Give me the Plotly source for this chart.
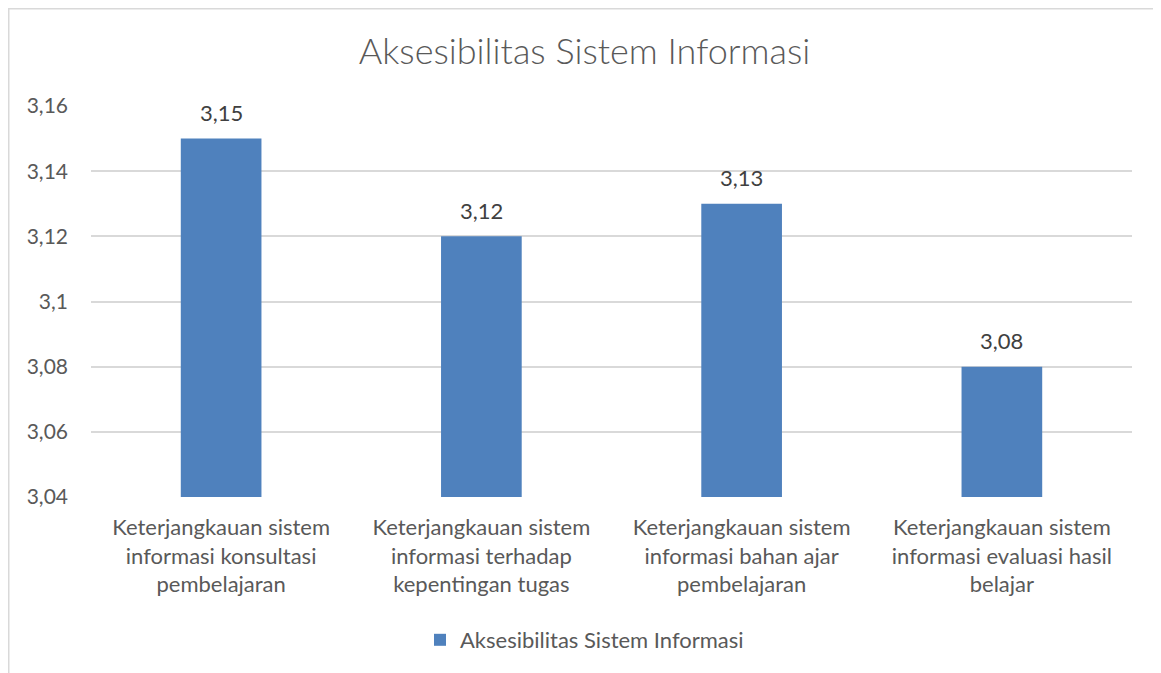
import plotly.graph_objects as go

categories = [
    "Keterjangkauan sistem<br>informasi konsultasi<br>pembelajaran",
    "Keterjangkauan sistem<br>informasi terhadap<br>kepentingan tugas",
    "Keterjangkauan sistem<br>informasi bahan ajar<br>pembelajaran",
    "Keterjangkauan sistem<br>informasi evaluasi hasil<br>belajar",
]
values = [3.15, 3.12, 3.13, 3.08]
value_labels = ["3,15", "3,12", "3,13", "3,08"]
series_name = "Aksesibilitas Sistem Informasi"
title_text = "Aksesibilitas Sistem Informasi"
tick_vals = [3.04, 3.06, 3.08, 3.10, 3.12, 3.14, 3.16]
tick_text = ["3,04", "3,06", "3,08", "3,1", "3,12", "3,14", "3,16"]

FONT = "Lato, Carlito, Calibri, sans-serif"
TEXT = "#595959"

fig = go.Figure(
    go.Bar(
        x=categories,
        y=values,
        name=series_name,
        marker=dict(color="#4F81BD", line=dict(width=0)),
        showlegend=True,
    )
)

# page offset of 8px (body margin) is compensated here
W, H = 1153, 665
L, T = 83, 98
pw, ph = 1041, 391
R = W - L - pw
B = H - T - ph

def px_to_paper_x(px):
    return (px - L) / pw

def px_to_paper_y(py):
    return (H - B - py) / ph

annotations = [
    dict(
        x=c, y=v, xref="x", yref="y", text=t, showarrow=False,
        yanchor="middle", yshift=26,
        font=dict(family=FONT, size=22, color="#404040"),
    )
    for c, v, t in zip(categories, values, value_labels)
]

fig.update_layout(
    width=W,
    height=H,
    margin=dict(l=L, r=R, t=T, b=B),
    paper_bgcolor="white",
    plot_bgcolor="white",
    bargap=0.69,
    font=dict(family=FONT, color=TEXT),
    title=dict(
        text=title_text,
        font=dict(family=FONT, size=36, color=TEXT, weight=300),
        x=0.5,
        xanchor="center",
        y=1 - 43 / H,
        yanchor="middle",
    ),
    xaxis=dict(
        showgrid=False,
        showline=False,
        zeroline=False,
        tickfont=dict(family=FONT, size=22, color=TEXT),
        ticks="",
        ticklabelstandoff=15,
    ),
    yaxis=dict(
        range=[3.04, 3.16],
        tickvals=tick_vals,
        ticktext=tick_text,
        showgrid=True,
        gridcolor="#D9D9D9",
        gridwidth=1.5,
        zeroline=False,
        showline=False,
        ticks="",
        ticklabelstandoff=22,
        tickfont=dict(family=FONT, size=21, color=TEXT),
    ),
    legend=dict(
        orientation="h",
        x=0.5 - 27 / pw,
        xanchor="center",
        y=px_to_paper_y(632),
        yanchor="middle",
        font=dict(family=FONT, size=22, color=TEXT),
        itemwidth=30,
    ),
    annotations=annotations,
    shapes=[
        dict(
            type="rect",
            xref="paper",
            yref="paper",
            x0=px_to_paper_x(0.75),
            x1=px_to_paper_x(1152),
            y0=px_to_paper_y(700),
            y1=px_to_paper_y(0.75),
            line=dict(color="#D9D9D9", width=1.5),
            fillcolor="rgba(0,0,0,0)",
            layer="below",
        )
    ],
)

fig.write_html("out.html")
